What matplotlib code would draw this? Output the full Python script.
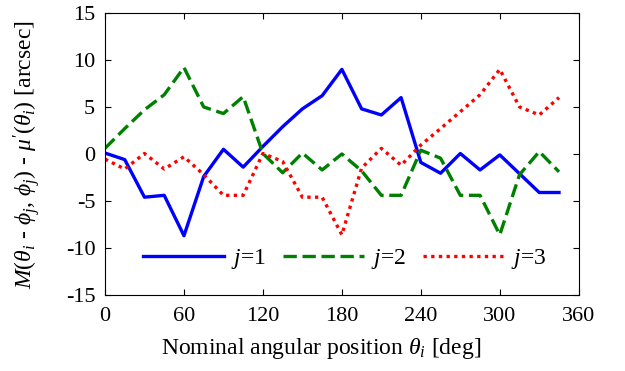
import numpy as np
import matplotlib
matplotlib.use("Agg")
import matplotlib.pyplot as plt

# ---------- fonts ----------
plt.rcParams['font.family'] = 'Liberation Serif'
plt.rcParams['mathtext.fontset'] = 'custom'
plt.rcParams['mathtext.rm'] = 'Liberation Serif'
plt.rcParams['mathtext.it'] = 'Liberation Serif:italic'
plt.rcParams['mathtext.bf'] = 'Liberation Serif:bold'
plt.rcParams['axes.unicode_minus'] = False

# ---------- data ----------
theta = [0, 15, 30, 45, 60, 75, 90, 105, 120, 135, 150, 165,
         180, 195, 210, 225, 240, 255, 270, 285, 300, 315, 330, 345]

j1 = [0.1, -0.6, -4.6, -4.4, -8.7, -2.4, 0.5, -1.4, 0.8, 2.9, 4.8, 6.2,
      9.0, 4.8, 4.15, 6.0, -0.9, -2.05, 0.05, -1.7, -0.1, -2.1, -4.1, -4.1]
j2 = [0.6, 2.7, 4.7, 6.3, 9.2, 5.0, 4.3, 6.1, 0.05, -2.0, 0.1, -1.7,
      0.0, -1.8, -4.4, -4.4, 0.4, -0.45, -4.4, -4.4, -8.6, -2.2, 0.25, -1.9]
j3 = [-0.55, -1.6, 0.05, -1.6, -0.3, -2.2, -4.4, -4.4, 0.05, -0.8, -4.6, -4.6,
      -8.6, -1.5, 0.6, -1.2, 0.95, 2.7, 4.5, 6.3, 9.0, 5.0, 4.15, 6.0]

labels = ["$j$=1", "$j$=2", "$j$=3"]
xticks = [0, 60, 120, 180, 240, 300, 360]
yticks = [-15, -10, -5, 0, 5, 10, 15]

# ---------- plot ----------
fig = plt.figure(figsize=(6.25, 3.71), dpi=100)
ax = fig.add_axes([0.168, 0.205, 0.758, 0.76])

ax.plot(theta, j1, color='blue', lw=2.4, ls='-', label=labels[0])
ax.plot(theta, j2, color='green', lw=2.4, ls=(0, (4, 1.7)), label=labels[1])
ax.plot(theta, j3, color='red', lw=2.4, ls=(0, (1, 1.3)), label=labels[2])

ax.set_xlim(0, 360)
ax.set_ylim(-15, 15)
ax.set_xticks(xticks)
ax.set_yticks(yticks)
ax.tick_params(direction='in', top=True, right=True, labelsize=16, length=4)
ax.tick_params(axis='x', pad=9)
ax.tick_params(axis='y', pad=7)
for s in ax.spines.values():
    s.set_linewidth(0.8)

ax.set_xlabel(r"Nominal angular position $\theta_i$ [deg]", fontsize=17)
ax.set_ylabel(r"$M(\theta_i$ - $\phi_j$, $\phi_j)$ - $\mu'(\theta_i)$ [arcsec]",
              fontsize=17)
ax.xaxis.set_label_coords(0.457, -0.145)
ax.yaxis.set_label_coords(-0.133, 0.496)

ax.legend(loc='center', bbox_to_anchor=(0.506, 0.128), ncol=3, frameon=False,
          fontsize=17, handlelength=3.4, columnspacing=0.75, handletextpad=0.3,
          borderpad=0, borderaxespad=0)

fig.savefig("out.png", dpi=100)
